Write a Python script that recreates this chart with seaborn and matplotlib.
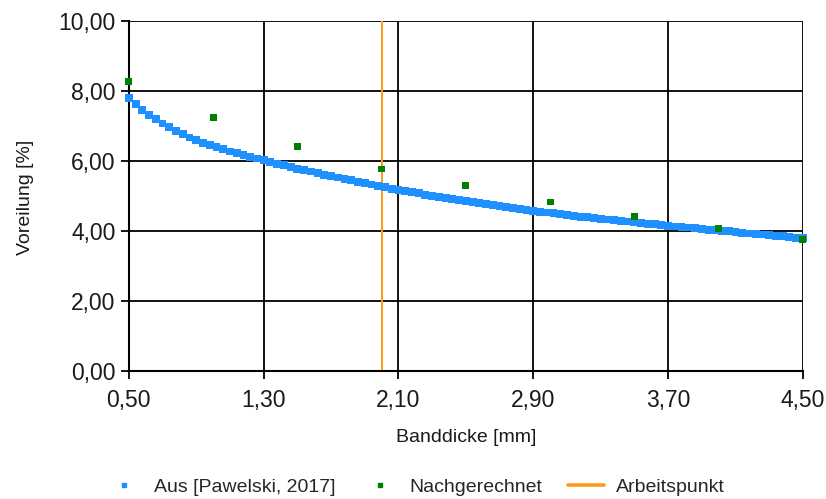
import numpy as np
import pandas as pd
import matplotlib
matplotlib.use("Agg")
import matplotlib.pyplot as plt
import seaborn as sns
from matplotlib.lines import Line2D

# ---- data ----
pawelski_x = [round(0.5 + 0.04 * i, 2) for i in range(101)]
pawelski_y = [7.80, 7.62, 7.46, 7.32, 7.19, 7.07, 6.96, 6.86, 6.76, 6.67,
              6.59, 6.51, 6.45, 6.39, 6.33, 6.27, 6.22, 6.17, 6.12, 6.07,
              6.02, 5.97, 5.92, 5.88, 5.83, 5.78, 5.74, 5.70, 5.66, 5.61,
              5.57, 5.53, 5.49, 5.45, 5.41, 5.37, 5.33, 5.29, 5.25, 5.21,
              5.17, 5.14, 5.11, 5.08, 5.04, 5.01, 4.98, 4.95, 4.92, 4.88,
              4.85, 4.82, 4.79, 4.77, 4.74, 4.71, 4.68, 4.65, 4.63, 4.60,
              4.58, 4.55, 4.53, 4.51, 4.48, 4.46, 4.44, 4.41, 4.39, 4.37,
              4.35, 4.33, 4.31, 4.29, 4.27, 4.25, 4.23, 4.21, 4.19, 4.17,
              4.15, 4.13, 4.11, 4.10, 4.08, 4.06, 4.04, 4.02, 4.00, 3.99,
              3.97, 3.95, 3.93, 3.92, 3.90, 3.88, 3.86, 3.85, 3.83, 3.81,
              3.79]
nach_x = [0.5, 1.0, 1.5, 2.0, 2.5, 3.0, 3.5, 4.0, 4.5]
nach_y = [8.27, 7.24, 6.41, 5.77, 5.29, 4.83, 4.41, 4.06, 3.75]
arbeitspunkt_x = 2.0

x_ticks = [0.5, 1.3, 2.1, 2.9, 3.7, 4.5]
x_ticklabels = ["0,50", "1,30", "2,10", "2,90", "3,70", "4,50"]
y_ticks = [0, 2, 4, 6, 8, 10]
y_ticklabels = ["0,00", "2,00", "4,00", "6,00", "8,00", "10,00"]

sns.set_style("white")
plt.rcParams['font.family'] = ['Liberation Sans', 'DejaVu Sans']

df_p = pd.DataFrame({"x": pawelski_x, "y": pawelski_y})
df_n = pd.DataFrame({"x": nach_x, "y": nach_y})

fig = plt.figure(figsize=(8.26, 4.99), dpi=100)
ax = fig.add_axes([0.156, 0.2565, 0.816, 0.7015])

ax.set_xlim(0.5, 4.5)
ax.set_ylim(0, 10)
ax.set_xticks(x_ticks)
ax.set_xticklabels(x_ticklabels)
ax.set_yticks(y_ticks)
ax.set_yticklabels(y_ticklabels)
ax.grid(True, color="black", linewidth=1.3, zorder=0)
ax.set_axisbelow(True)

for s in ["top", "right"]:
    ax.spines[s].set_visible(False)
for s in ["left", "bottom"]:
    ax.spines[s].set_color("black")
    ax.spines[s].set_linewidth(1.5)

ax.axvline(arbeitspunkt_x, color="#FF9A1A", linewidth=1.4, zorder=2)

sns.scatterplot(data=df_p, x="x", y="y", ax=ax, marker="s", s=32,
                color="#1E90FF", edgecolor="none", linewidth=0, zorder=3, clip_on=False)
sns.scatterplot(data=df_n, x="x", y="y", ax=ax, marker="s", s=24,
                color="#008000", edgecolor="none", linewidth=0, zorder=4, clip_on=False)

ax.tick_params(axis="both", which="both", direction="out", length=6, width=1.3,
               color="black", labelsize=16.5, labelcolor="#1a1a1a",
               left=True, bottom=True)
ax.tick_params(axis="y", pad=3.5)
ax.tick_params(axis="x", pad=7)

ax.set_xlabel("Banddicke [mm]", fontsize=14, color="#1a1a1a", va="center")
ax.xaxis.set_label_coords(0.5, -0.191)
ax.set_ylabel("Voreilung [%]", fontsize=14, color="#1a1a1a", va="center")
ax.yaxis.set_label_coords(-0.153, 0.497)

handles = [
    Line2D([], [], linestyle="none", marker="s", markersize=3, color="#1E90FF"),
    Line2D([], [], linestyle="none", marker="s", markersize=3, color="#008000"),
    Line2D([], [], color="#FF9A1A", linewidth=2.6),
]
labels = ["Aus [Pawelski, 2017]", "Nachgerechnet", "Arbeitspunkt"]
fig.legend(handles, labels, loc="center", bbox_to_anchor=(0.503, 0.024), ncol=3,
           frameon=False, fontsize=14, handlelength=1.85, columnspacing=1.35,
           handletextpad=0.6, borderaxespad=0, borderpad=0)

fig.savefig("out.png", dpi=100)
